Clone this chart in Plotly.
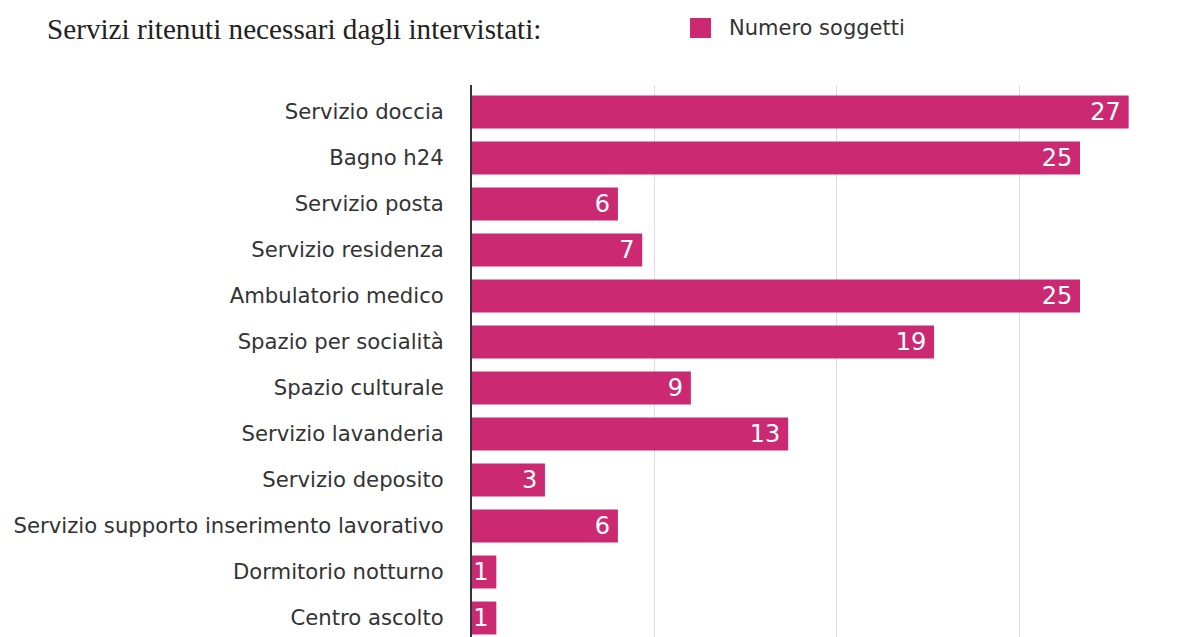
import plotly.graph_objects as go

# Services judged necessary by respondents, listed top to bottom
servizi = [
    "Servizio doccia",
    "Bagno h24",
    "Servizio posta",
    "Servizio residenza",
    "Ambulatorio medico",
    "Spazio per socialità",
    "Spazio culturale",
    "Servizio lavanderia",
    "Servizio deposito",
    "Servizio supporto inserimento lavorativo",
    "Dormitorio notturno",
    "Centro ascolto",
]
numero_soggetti = [27, 25, 6, 7, 25, 19, 9, 13, 3, 6, 1, 1]
serie_nome = "Numero soggetti"
titolo = "Servizi ritenuti necessari dagli intervistati:"

W, H = 1185, 637
PLOT_L, PLOT_T = 472, 85          # plot area left / top in pixels
PLOT_W, PLOT_H = W - PLOT_L, H - PLOT_T
PX_PER_UNIT = 24.32               # horizontal scale of the value axis
ROW = 46                          # pixel pitch of one category row
FIRST_CENTER = 112                # pixel y of the first row centre

BAR_COLOR = "#CB2A73"
TEXT_COLOR = "#333333"

x_max = PLOT_W / PX_PER_UNIT
y_top = -(FIRST_CENTER - PLOT_T) / ROW
y_bottom = y_top + PLOT_H / ROW

fig = go.Figure()
fig.add_trace(go.Bar(
    y=servizi,
    x=numero_soggetti,
    orientation="h",
    name=serie_nome,
    marker=dict(color=BAR_COLOR, line=dict(width=0)),
    texttemplate="%{x}\u2009",
    textposition="inside",
    insidetextanchor="end",
    textangle=0,
    constraintext="none",
    textfont=dict(family="DejaVu Sans", size=24, color="white"),
    showlegend=False,
    hoverinfo="x+y",
))


def px_x(p):
    return (p - PLOT_L) / PLOT_W


def px_y(p):
    return (H - p) / PLOT_H


# Legend swatch and label
fig.add_shape(
    type="rect", xref="paper", yref="paper",
    x0=px_x(690), x1=px_x(711), y0=px_y(38), y1=px_y(18),
    fillcolor=BAR_COLOR, line=dict(width=0),
)
fig.add_annotation(
    xref="paper", yref="paper", x=px_x(727), y=px_y(28),
    xanchor="left", yanchor="middle", showarrow=False,
    text=serie_nome,
    font=dict(family="DejaVu Sans", size=21, color=TEXT_COLOR),
)

fig.update_layout(
    width=W, height=H,
    margin=dict(l=PLOT_L, r=0, t=PLOT_T, b=0, pad=0),
    paper_bgcolor="white", plot_bgcolor="white",
    bargap=0.283,
    title=dict(
        text=titolo,
        x=47 / W, xanchor="left", xref="container",
        y=1 - 29 / H, yanchor="middle", yref="container",
        font=dict(family="Liberation Serif", size=29.2, color="#222222"),
    ),
    xaxis=dict(
        range=[0, x_max],
        dtick=7.5, tick0=0,
        showgrid=True, gridcolor="#DDDDDD", gridwidth=1,
        zeroline=False, showline=False,
        showticklabels=False, ticks="",
        fixedrange=True,
    ),
    yaxis=dict(
        type="category",
        categoryorder="array", categoryarray=servizi,
        range=[y_bottom, y_top],
        showline=True, linecolor="#333333", linewidth=2,
        showgrid=False, zeroline=False,
        ticks="", ticklabelstandoff=22,
        tickfont=dict(family="DejaVu Sans", size=21.2, color=TEXT_COLOR),
        fixedrange=True,
    ),
)

fig.write_html("out.html")
